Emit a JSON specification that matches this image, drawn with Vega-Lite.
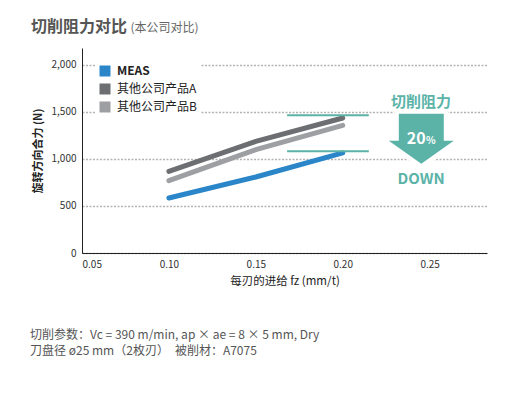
{
  "$schema": "https://vega.github.io/schema/vega-lite/v6.json",
  "autosize": "none",
  "width": 405,
  "height": 205,
  "padding": {"left": 82, "top": 48, "right": 43, "bottom": 146},
  "background": "white",
  "config": {
    "font": "Noto Sans CJK SC",
    "view": {"stroke": null}
  },
  "datasets": {
    "force": [
      {"fz": 0.10, "force": 585, "series": "MEAS"},
      {"fz": 0.15, "force": 808, "series": "MEAS"},
      {"fz": 0.20, "force": 1064, "series": "MEAS"},
      {"fz": 0.10, "force": 868, "series": "其他公司产品A"},
      {"fz": 0.15, "force": 1187, "series": "其他公司产品A"},
      {"fz": 0.20, "force": 1436, "series": "其他公司产品A"},
      {"fz": 0.10, "force": 769, "series": "其他公司产品B"},
      {"fz": 0.15, "force": 1099, "series": "其他公司产品B"},
      {"fz": 0.20, "force": 1357, "series": "其他公司产品B"}
    ],
    "refs": [
      {"fz_start": 0.168, "fz_end": 0.215, "force": 1464},
      {"fz_start": 0.168, "fz_end": 0.215, "force": 1081}
    ],
    "notes": [
      {"note": "切削参数：Vc = 390 m/min, ap × ae = 8 × 5 mm, Dry\n刀盘径 ø25 mm（2枚刃）　被削材：A7075"}
    ]
  },
  "layer": [
    {
      "data": {"name": "force"},
      "mark": {"type": "line", "strokeWidth": 5, "strokeCap": "round"},
      "encoding": {
        "x": {
          "field": "fz",
          "type": "quantitative",
          "scale": {"domain": [0.05, 0.283], "nice": false, "zero": false},
          "axis": {
            "values": [0.05, 0.10, 0.15, 0.20, 0.25],
            "format": ".2f",
            "grid": false,
            "ticks": false,
            "domainColor": "#222",
            "domainWidth": 1,
            "labelFontSize": 10,
            "labelColor": "#333",
            "labelPadding": 6,
            "labelFont": "Noto Sans CJK SC",
            "title": "每刃的进给 fz (mm/t)",
            "titleFontSize": 11.5,
            "titleFontWeight": "normal",
            "titleColor": "#222",
            "titlePadding": 6,
            "titleFont": "Noto Sans CJK SC"
          }
        },
        "y": {
          "field": "force",
          "type": "quantitative",
          "scale": {"domain": [0, 2180], "nice": false},
          "axis": {
            "values": [0, 500, 1000, 1500, 2000],
            "format": ",.0f",
            "grid": true,
            "gridDash": [2, 1.5],
            "gridColor": "#b3b3b3",
            "gridWidth": 1.3,
            "ticks": false,
            "domainColor": "#222",
            "domainWidth": 1,
            "labelFontSize": 10,
            "labelColor": "#333",
            "labelPadding": 6,
            "labelFont": "Noto Sans CJK SC",
            "title": "旋转方向合力 (N)",
            "titleFontSize": 11,
            "titleFontWeight": "bold",
            "titleColor": "#222",
            "titlePadding": 8,
            "titleFont": "Noto Sans CJK SC"
          }
        },
        "color": {
          "field": "series",
          "type": "nominal",
          "scale": {
            "domain": ["MEAS", "其他公司产品A", "其他公司产品B"],
            "range": ["#2a86c8", "#6d6e71", "#9d9fa2"]
          },
          "legend": {
            "title": null,
            "orient": "none",
            "legendX": 14,
            "legendY": 14,
            "symbolType": "square",
            "symbolSize": 121,
            "symbolStrokeWidth": 0,
            "symbolOpacity": 1,
            "labelFontSize": 12,
            "labelColor": "#222",
            "labelFont": "Noto Sans CJK SC",
            "labelOffset": 6,
            "rowPadding": 6,
            "fillColor": "white",
            "padding": 3,
            "encode": {
              "symbols": {"update": {"fill": {"field": "value", "scale": "color"}, "opacity": {"value": 1}}},
              "labels": {"update": {"fontWeight": {"signal": "datum.label == 'MEAS' ? 'bold' : 'normal'"}}}
            }
          }
        }
      }
    },
    {
      "data": {"name": "refs"},
      "mark": {"type": "rule", "color": "#5bb3a8", "strokeWidth": 2},
      "encoding": {
        "x": {"field": "fz_start", "type": "quantitative"},
        "x2": {"field": "fz_end"},
        "y": {"field": "force", "type": "quantitative"}
      }
    },
    {
      "data": {"values": [{}]},
      "mark": {
        "type": "point",
        "shape": "M-0.692,-0.769L0.692,-0.769L0.692,0.062L1,0.062L0,0.769L-1,0.062L-0.692,0.062Z",
        "filled": true,
        "fill": "white",
        "stroke": "white",
        "strokeWidth": 9,
        "opacity": 1,
        "size": 4225
      },
      "encoding": {
        "x": {"datum": 0.2452, "type": "quantitative"},
        "y": {"datum": 1216, "type": "quantitative"}
      }
    },
    {
      "data": {"values": [{}]},
      "mark": {
        "type": "point",
        "shape": "M-0.692,-0.769L0.692,-0.769L0.692,0.062L1,0.062L0,0.769L-1,0.062L-0.692,0.062Z",
        "filled": true,
        "fill": "#5bb3a8",
        "strokeWidth": 0,
        "opacity": 1,
        "size": 4225
      },
      "encoding": {
        "x": {"datum": 0.2452, "type": "quantitative"},
        "y": {"datum": 1216, "type": "quantitative"}
      }
    },
    {
      "data": {"values": [{"label": "切削阻力"}]},
      "mark": {"type": "text", "fontSize": 15, "fontWeight": "bold", "color": "#5bb3a8", "align": "center", "baseline": "middle"},
      "encoding": {
        "x": {"datum": 0.2451, "type": "quantitative"},
        "y": {"datum": 1610, "type": "quantitative"},
        "text": {"field": "label"}
      }
    },
    {
      "data": {"values": [{"label": "DOWN"}]},
      "mark": {"type": "text", "fontSize": 15, "fontWeight": "bold", "color": "#5bb3a8", "align": "center", "baseline": "middle"},
      "encoding": {
        "x": {"datum": 0.2451, "type": "quantitative"},
        "y": {"datum": 790, "type": "quantitative"},
        "text": {"field": "label"}
      }
    },
    {
      "data": {"values": [{"label": "20"}]},
      "mark": {"type": "text", "fontSize": 16, "fontWeight": "bold", "color": "white", "align": "right", "baseline": "middle"},
      "encoding": {
        "x": {"datum": 0.2477, "type": "quantitative"},
        "y": {"datum": 1216, "type": "quantitative"},
        "text": {"field": "label"}
      }
    },
    {
      "data": {"values": [{"label": "%"}]},
      "mark": {"type": "text", "fontSize": 10, "fontWeight": "bold", "color": "white", "align": "left", "baseline": "middle"},
      "encoding": {
        "x": {"datum": 0.2479, "type": "quantitative"},
        "y": {"datum": 1196, "type": "quantitative"},
        "text": {"field": "label"}
      }
    },
    {
      "data": {"values": [{"label": "切削阻力对比"}]},
      "mark": {"type": "text", "fontSize": 16, "fontWeight": "bold", "color": "#555555", "align": "left", "baseline": "middle"},
      "encoding": {
        "x": {"datum": 0.0207, "type": "quantitative"},
        "y": {"datum": 2405, "type": "quantitative"},
        "text": {"field": "label"}
      }
    },
    {
      "data": {"values": [{"label": "(本公司对比)"}]},
      "mark": {"type": "text", "fontSize": 12, "color": "#666", "align": "left", "baseline": "middle"},
      "encoding": {
        "x": {"datum": 0.0779, "type": "quantitative"},
        "y": {"datum": 2395, "type": "quantitative"},
        "text": {"field": "label"}
      }
    },
    {
      "data": {"name": "notes"},
      "mark": {"type": "text", "fontSize": 12, "color": "#555", "align": "left", "baseline": "top", "lineBreak": "\n", "lineHeight": 15.5},
      "encoding": {
        "x": {"datum": 0.0201, "type": "quantitative"},
        "y": {"datum": -820, "type": "quantitative"},
        "text": {"field": "note"}
      }
    }
  ]
}
